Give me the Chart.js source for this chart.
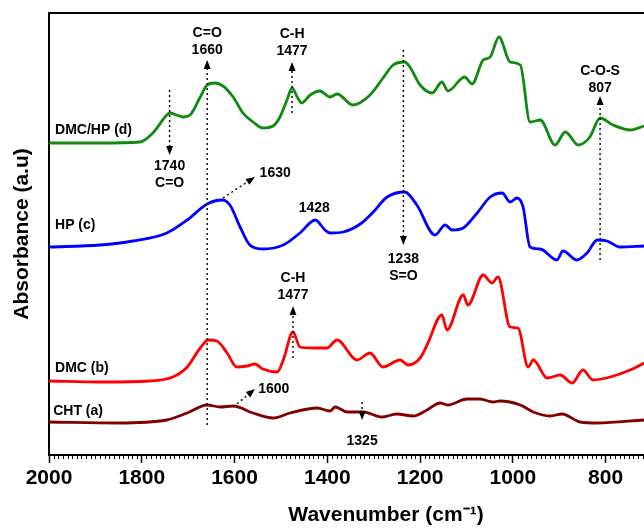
<!DOCTYPE html>
<html>
<head>
<meta charset="utf-8">
<script src="https://cdn.jsdelivr.net/npm/chart.js"></script>
<style>
  html, body { margin: 0; padding: 0; background: #fff; overflow: hidden; }
  #wrap { width: 740px; height: 528px; }
</style>
</head>
<body>
<div id="wrap"><canvas id="ftir" width="740" height="528"></canvas></div>
<script>
// wavenumbers (cm-1) and absorbance (a.u., offset stacked)
const wnD = [2000, 1890, 1804, 1776, 1746, 1739, 1725, 1711, 1696, 1674, 1659, 1642, 1625, 1603, 1582, 1560, 1539, 1517, 1502, 1487, 1476, 1465, 1455, 1437, 1416, 1394, 1379, 1345, 1308, 1280, 1258, 1233, 1222, 1200, 1174, 1153, 1140, 1104, 1088, 1064, 1049, 1030, 1006, 984, 963, 941, 909, 887, 859, 834, 812, 784, 747, 717];
const absD = [312, 312, 313, 322, 340, 342, 340, 338, 340, 358, 370, 372, 369, 358, 342, 333, 327, 329, 338, 355, 367, 358, 352, 360, 364, 358, 361, 350, 360, 377, 390, 393, 388, 370, 362, 373, 364, 378, 371, 395, 398, 418, 393, 390, 333, 335, 310, 323, 310, 318, 337, 330, 325, 329];

const wnC = [2000, 1890, 1819, 1746, 1702, 1659, 1627, 1610, 1588, 1567, 1539, 1495, 1459, 1426, 1405, 1394, 1366, 1329, 1301, 1271, 1233, 1207, 1168, 1146, 1131, 1107, 1077, 1049, 1023, 1006, 991, 978, 963, 941, 905, 892, 862, 840, 818, 797, 769, 717];
const absC = [208, 210, 214, 222, 235, 251, 255, 250, 228, 210, 206, 210, 222, 235, 225, 222, 223, 231, 243, 258, 263, 250, 220, 230, 225, 227, 242, 258, 262, 253, 257, 248, 208, 206, 195, 204, 195, 202, 215, 214, 208, 209];

const wnB = [2000, 1890, 1782, 1733, 1702, 1674, 1657, 1638, 1616, 1595, 1573, 1556, 1539, 1508, 1495, 1474, 1459, 1431, 1401, 1379, 1336, 1308, 1280, 1243, 1226, 1200, 1185, 1153, 1142, 1107, 1097, 1064, 1045, 1032, 1006, 989, 967, 956, 926, 898, 872, 849, 827, 790, 747, 717];
const absB = [74, 73, 74, 78, 88, 107, 115, 114, 102, 88, 89, 91, 86, 83, 95, 123, 108, 107, 107, 115, 95, 102, 88, 95, 90, 97, 110, 140, 125, 160, 150, 180, 172, 178, 128, 127, 88, 95, 77, 80, 72, 85, 75, 78, 85, 92];

const wnA = [2000, 1853, 1746, 1702, 1659, 1631, 1603, 1560, 1517, 1480, 1422, 1394, 1383, 1357, 1323, 1282, 1250, 1215, 1185, 1157, 1140, 1099, 1071, 1043, 1028, 984, 956, 920, 894, 855, 818, 717];
const absA = [33, 32, 35, 42, 50, 48, 49, 42, 37, 42, 47, 44, 48, 43, 43, 38, 41, 39, 45, 52, 50, 56, 56, 53, 54, 50, 43, 39, 41, 33, 32, 35];

const seriesNames = ['DMC/HP (d)', 'HP (c)', 'DMC (b)', 'CHT (a)'];
const seriesColors = ['#0f8a0f', '#0000ff', '#ff0000', '#800000'];
// where each curve name sits (wavenumber, absorbance)
const nameAt = [[1987, 325], [1987, 230], [1987, 87], [1991, 44]];

// band assignments: dotted guide from [x1,y1] to arrow tip [x2,y2], text block at [tx,ty]
const bands = [
  { x1: 1740, y1: 365, x2: 1740, y2: 300, text: ['1740', 'C=O'], tx: 1740, ty: 289, align: 'center' },
  { x1: 1659, y1: 30, x2: 1659, y2: 395, text: ['C=O', '1660'], tx: 1659, ty: 422, align: 'center' },
  { x1: 1476, y1: 342, x2: 1476, y2: 393, text: ['C-H', '1477'], tx: 1476, ty: 421, align: 'center' },
  { x1: 1625, y1: 257, x2: 1556, y2: 278, text: ['1630'], tx: 1546, ty: 282, align: 'left' },
  { text: ['1428'], tx: 1428, ty: 247, align: 'center' },
  { x1: 1236, y1: 405, x2: 1236, y2: 210, text: ['1238', 'S=O'], tx: 1236, ty: 196, align: 'center' },
  { x1: 812, y1: 195, x2: 812, y2: 359, text: ['C-O-S', '807'], tx: 812, ty: 384, align: 'center' },
  { x1: 1474, y1: 97, x2: 1474, y2: 149, text: ['C-H', '1477'], tx: 1474, ty: 177, align: 'center' },
  { x1: 1603, y1: 48, x2: 1556, y2: 66, text: ['1600'], tx: 1549, ty: 66, align: 'left' },
  { x1: 1325, y1: 53, x2: 1325, y2: 35, text: ['1325'], tx: 1325, ty: 14, align: 'center' }
];

const pairs = (xs, ys) => xs.map((x, i) => ({ x: x, y: ys[i] }));

const bandPlugin = {
  id: 'bands',
  afterDatasetsDraw(chart) {
    const ctx = chart.ctx;
    const xs = chart.scales.x;
    const ys = chart.scales.y;
    const area = chart.chartArea;
    ctx.save();

    // frame top/right
    ctx.strokeStyle = '#000';
    ctx.lineWidth = 2;
    ctx.beginPath();
    ctx.moveTo(area.left - 1, area.top);
    ctx.lineTo(area.right, area.top);
    ctx.lineTo(area.right, area.bottom);
    ctx.stroke();

    // minor ticks every 10 cm-1
    ctx.lineWidth = 1;
    ctx.beginPath();
    for (let w = 560; w < 2000; w += 10) {
      if (w % 200 === 0) continue;
      const px = Math.round(xs.getPixelForValue(w)) + 0.5;
      ctx.moveTo(px, area.bottom);
      ctx.lineTo(px, area.bottom + 4);
    }
    ctx.stroke();

    // guides and arrows
    bands.forEach(b => {
      if (b.x1 === undefined) return;
      const ax = xs.getPixelForValue(b.x1), ay = ys.getPixelForValue(b.y1);
      const bx = xs.getPixelForValue(b.x2), by = ys.getPixelForValue(b.y2);
      const len = Math.hypot(bx - ax, by - ay);
      const ux = (bx - ax) / len, uy = (by - ay) / len;
      const head = 9, half = 3.5;
      ctx.strokeStyle = '#000';
      ctx.lineWidth = 1.4;
      ctx.setLineDash([2, 3]);
      ctx.beginPath();
      ctx.moveTo(ax, ay);
      ctx.lineTo(bx - ux * head, by - uy * head);
      ctx.stroke();
      ctx.setLineDash([]);
      ctx.fillStyle = '#000';
      ctx.beginPath();
      ctx.moveTo(bx, by);
      ctx.lineTo(bx - ux * head - uy * half, by - uy * head + ux * half);
      ctx.lineTo(bx - ux * head + uy * half, by - uy * head - ux * half);
      ctx.closePath();
      ctx.fill();
    });

    // band labels
    ctx.fillStyle = '#000';
    ctx.font = 'bold 14px "Liberation Sans", Arial, sans-serif';
    ctx.textBaseline = 'middle';
    bands.forEach(b => {
      ctx.textAlign = b.align;
      const px = xs.getPixelForValue(b.tx);
      const py = ys.getPixelForValue(b.ty);
      b.text.forEach((t, i) => ctx.fillText(t, px, py + i * 17));
    });

    // curve names
    ctx.textAlign = 'left';
    seriesNames.forEach((n, i) => {
      ctx.fillText(n, xs.getPixelForValue(nameAt[i][0]), ys.getPixelForValue(nameAt[i][1]));
    });
    ctx.restore();
  }
};

new Chart(document.getElementById('ftir'), {
  type: 'line',
  data: {
    datasets: [
      { label: seriesNames[0], data: pairs(wnD, absD), borderColor: seriesColors[0] },
      { label: seriesNames[1], data: pairs(wnC, absC), borderColor: seriesColors[1] },
      { label: seriesNames[2], data: pairs(wnB, absB), borderColor: seriesColors[2] },
      { label: seriesNames[3], data: pairs(wnA, absA), borderColor: seriesColors[3] }
    ]
  },
  options: {
    responsive: false,
    animation: false,
    layout: { padding: { top: 13, right: 17, left: 0, bottom: 0 } },
    elements: {
      line: { borderWidth: 2.8, fill: false, cubicInterpolationMode: 'monotone' },
      point: { radius: 0 }
    },
    plugins: {
      legend: { display: false },
      tooltip: { enabled: false }
    },
    scales: {
      x: {
        type: 'linear',
        reverse: true,
        min: 547,
        max: 2000,
        afterFit(scale) { scale.height = 73; },
        border: { display: true, color: '#000', width: 2 },
        grid: { drawOnChartArea: false, drawTicks: true, tickLength: 8, tickWidth: 1.5, tickColor: '#000' },
        ticks: {
          stepSize: 200,
          includeBounds: false,
          autoSkip: false,
          maxRotation: 0,
          padding: 3,
          color: '#000',
          callback: v => String(v),
          font: { family: '"Liberation Sans", Arial, sans-serif', size: 21, weight: 'bold' }
        },
        title: {
          display: true,
          text: 'Wavenumber (cm⁻¹)',
          color: '#000',
          padding: { top: 0, bottom: 0 },
          font: { family: '"Liberation Sans", Arial, sans-serif', size: 21, weight: 'bold' }
        }
      },
      y: {
        min: 0,
        max: 442,
        afterFit(scale) { scale.width = 49; },
        border: { display: true, color: '#000', width: 2 },
        grid: { drawOnChartArea: false, drawTicks: false },
        ticks: { display: false },
        title: {
          display: true,
          text: 'Absorbance (a.u)',
          color: '#000',
          padding: { top: 10, bottom: 0 },
          font: { family: '"Liberation Sans", Arial, sans-serif', size: 21, weight: 'bold' }
        }
      }
    }
  },
  plugins: [bandPlugin]
});
</script>
</body>
</html>
